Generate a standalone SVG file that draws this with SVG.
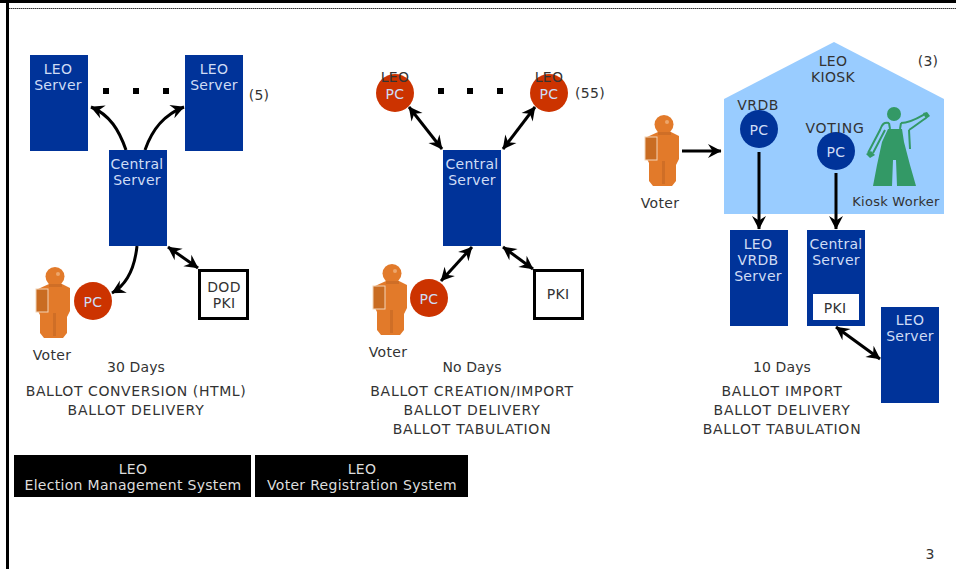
<svg xmlns="http://www.w3.org/2000/svg" width="956" height="569" viewBox="0 0 956 569">
<style>
text{font-family:"DejaVu Sans",Verdana,sans-serif;font-size:14px;letter-spacing:.3px;text-anchor:middle;fill:#333;transform:translateY(.6px)}
.w text,text.w{fill:#cfdcf5}
.k text,text.k{fill:#ddd}
.cap text{letter-spacing:.75px}
.cap text.d{letter-spacing:.1px}
.cap text.n{letter-spacing:.58px}
.srv{fill:#003399}
.pc{fill:#cc3300}
.pcb{fill:#003399}
.box{fill:#fff;stroke:#000;stroke-width:3}
.c{fill:none;stroke:#000;stroke-width:3}
.body{fill:#e27a2c}
.shade{fill:#cf6e26}
.side{fill:#c96c24;stroke:#f3d3b4;stroke-width:1}
.wk{fill:none;stroke:#339966;stroke-width:2}
</style>
<defs>
<marker id="a" markerUnits="userSpaceOnUse" markerWidth="15" markerHeight="15" refX="13.500" refY="7.500" orient="auto-start-reverse"><path d="M0.500 0.500 L14 7.500 L0.500 14.500 L5 7.500 Z" fill="#000"/></marker>
<filter id="soft" x="-10%" y="-10%" width="120%" height="120%"><feGaussianBlur stdDeviation=".5"/></filter>
<g id="voter" filter="url(#soft)">
<circle cx="2" cy="9.500" r="9.500" class="body"/>
<path class="body" d="M-15 22 L-4 17 H9 L17 21 V44 L14 50 V66 L10 71 H-9 L-13 66 V48 L-15 44 Z"/>
<rect class="side" x="-17" y="22" width="12" height="23"/>
<path class="shade" d="M0 46 H3 V69 H0 Z"/>
<path class="shade" d="M-4 17 H9 V20 H-4 Z"/>
<circle cx="5" cy="7" r="2" fill="#eda66c"/>
</g>
</defs>
<g id="frame">
<rect x="0" y="0" width="956" height="3" fill="#000"/>
<path d="M9 8.500 H956" stroke="#333" stroke-width="1" stroke-dasharray="1.500 .5" fill="none"/>
<rect x="6" y="0" width="3" height="569" fill="#000"/>
</g>
<g id="kiosk"><path d="M724 99 L834 42 L944 99 V214 H724 Z" fill="#99ccff"/><text x="833" y="65">LEO</text><text x="833" y="81">KIOSK</text><text x="928" y="65">(3)</text></g>
<g id="worker">
<circle cx="894" cy="114" r="7" fill="#339966"/>
<path fill="#339966" d="M888 129 H902 L904 142 L910 165 L916 186 H897 L896 160 H893 L892 186 H873 L877 165 L882 142 Z"/>
<path class="wk" d="M889 123 C884 122 882 124 880 130 L868 153 M885 130 L873 153 M901 123 C910 123 918 118 925 114 M909 130 C915 126 920 122 926 118 M909 130 L910 149 M889 123 L890 129 M901 123 L900 129"/>
<path fill="#339966" d="M866 154 L871 151 L875 155 L870 158 Z M923 113 L927 112 L930 116 L926 119 Z"/>
</g>
<g id="connectors">
<path class="c" marker-end="url(#a)" d="M126 150 C119 130 110 115 91 107"/>
<path class="c" marker-end="url(#a)" d="M145 150 C152 130 163 115 184 107"/>
<path class="c" marker-end="url(#a)" d="M137 246 C135 265 128 284 112 293"/>
<path class="c" marker-start="url(#a)" marker-end="url(#a)" d="M168 247 L198 268"/>
<path class="c" marker-start="url(#a)" marker-end="url(#a)" d="M409 107 L442 149"/>
<path class="c" marker-start="url(#a)" marker-end="url(#a)" d="M535 107 L503 149"/>
<path class="c" marker-start="url(#a)" marker-end="url(#a)" d="M472 247 L441 281"/>
<path class="c" marker-start="url(#a)" marker-end="url(#a)" d="M503 247 L533 269"/>
<path class="c" marker-end="url(#a)" d="M682 151 H721"/>
<path class="c" marker-end="url(#a)" d="M759 152 V229"/>
<path class="c" marker-end="url(#a)" d="M836 173 V229"/>
<path class="c" marker-start="url(#a)" marker-end="url(#a)" d="M836 327 L880 359"/>
</g>
<g id="dots1" fill="#000"><rect x="103" y="88" width="6" height="6"/><rect x="133" y="88" width="6" height="6"/><rect x="163" y="88" width="6" height="6"/></g>
<g id="dots2" fill="#000"><rect x="438" y="88" width="6" height="6"/><rect x="467" y="88" width="6" height="6"/><rect x="497" y="88" width="6" height="6"/></g>
<g id="leo1" class="w"><rect class="srv" x="30" y="55" width="58" height="96"/><text x="58" y="73">LEO</text><text x="58" y="89">Server</text></g>
<g id="leo2" class="w"><rect class="srv" x="185" y="55" width="58" height="96"/><text x="214" y="73">LEO</text><text x="214" y="89">Server</text></g>
<text x="259" y="99">(5)</text>
<g id="central1" class="w"><rect class="srv" x="109" y="150" width="58" height="96"/><text x="137" y="168">Central</text><text x="137" y="184">Server</text></g>
<g id="voter1"><use href="#voter" x="53" y="267"/><text x="52" y="359">Voter</text></g>
<g id="pc1" class="w"><circle class="pc" cx="93" cy="301" r="19"/><text x="93" y="306">PC</text></g>
<g id="dodpki"><rect class="box" x="199.500" y="270.500" width="48" height="48"/><text x="224" y="291">DOD</text><text x="224" y="307">PKI</text></g>
<g id="cap1" class="cap"><text class="d" x="136" y="371">30 Days</text><text class="n" x="136" y="395">BALLOT CONVERSION (HTML)</text><text x="136" y="414">BALLOT DELIVERY</text></g>
<g id="ems" class="k"><rect x="14" y="455" width="237" height="42" fill="#000"/><text x="133" y="473">LEO</text><text x="133" y="489">Election Management System</text></g>
<g id="vrs" class="k"><rect x="255" y="455" width="213" height="42" fill="#000"/><text x="362" y="473">LEO</text><text x="362" y="489">Voter Registration System</text></g>
<g id="pcl1" class="w"><circle class="pc" cx="395" cy="93" r="19"/><text x="395" y="98">PC</text></g>
<text x="395" y="81">LEO</text>
<g id="pcl2" class="w"><circle class="pc" cx="549" cy="93" r="19"/><text x="549" y="98">PC</text></g>
<text x="549" y="81">LEO</text>
<text x="590" y="97">(55)</text>
<g id="central2" class="w"><rect class="srv" x="443" y="150" width="58" height="96"/><text x="472" y="168">Central</text><text x="472" y="184">Server</text></g>
<g id="voter2"><use href="#voter" x="390" y="264"/><text x="388" y="356">Voter</text></g>
<g id="pc2" class="w"><circle class="pc" cx="429" cy="298" r="19"/><text x="429" y="303">PC</text></g>
<g id="pki2"><rect class="box" x="534.500" y="270.500" width="48" height="48"/><text x="558" y="298">PKI</text></g>
<g id="cap2" class="cap"><text class="d" x="472" y="371">No Days</text><text x="472" y="395">BALLOT CREATION/IMPORT</text><text x="472" y="414">BALLOT DELIVERY</text><text x="472" y="433">BALLOT TABULATION</text></g>
<g id="voter3"><use href="#voter" x="662" y="115"/><text x="660" y="207">Voter</text></g>
<g id="vrdbpc" class="w"><circle class="pcb" cx="759" cy="129" r="19"/><text x="759" y="134">PC</text></g><text x="758" y="109" style="letter-spacing:.5px">VRDB</text>
<g id="votingpc" class="w"><circle class="pcb" cx="836" cy="151" r="19"/><text x="836" y="156">PC</text></g><text x="835" y="132" style="letter-spacing:.8px">VOTING</text>
<text x="896" y="205" style="font-size:13px;letter-spacing:.25px">Kiosk Worker</text>
<g id="vrdbsrv" class="w"><rect class="srv" x="730" y="230" width="58" height="96"/><text x="758" y="248">LEO</text><text x="758" y="264">VRDB</text><text x="758" y="280">Server</text></g>
<g id="central3"><rect class="srv" x="807" y="230" width="58" height="96"/><text class="w" x="836" y="248">Central</text><text class="w" x="836" y="264">Server</text><rect x="813" y="294" width="46" height="26" fill="#fff"/><text x="835" y="312">PKI</text></g>
<g id="leo3" class="w"><rect class="srv" x="881" y="307" width="58" height="96"/><text x="910" y="324">LEO</text><text x="910" y="340">Server</text></g>
<g id="cap3" class="cap"><text class="d" x="782" y="371">10 Days</text><text x="782" y="395">BALLOT IMPORT</text><text x="782" y="414">BALLOT DELIVERY</text><text x="782" y="433">BALLOT TABULATION</text></g>
<text x="930" y="558">3</text>
</svg>
